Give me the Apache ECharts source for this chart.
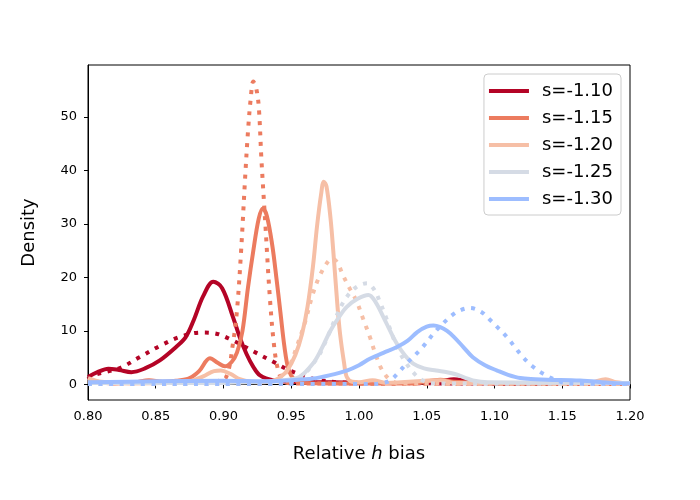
<!DOCTYPE html>
<html>
<head>
<meta charset="utf-8">
<script src="https://cdn.jsdelivr.net/npm/echarts@6/dist/echarts.min.js"></script>
<style>
  html, body { margin: 0; padding: 0; background: #fff; }
  #chart { width: 700px; height: 500px; }
</style>
</head>
<body>
<div id="chart"></div>
<script>
// legend labels and colours, one per s
var names = ["s=-1.10", "s=-1.15", "s=-1.20", "s=-1.25", "s=-1.30"];
var colors = ["#b40426", "#ec7b5f", "#f6bfa6", "#d5dbe5", "#9dbdff"];
var yTicks = [0, 10, 20, 30, 40, 50];

// solid curves  [x, density]
var solid110 = [[0.80,1.4],[0.807,2.3],[0.815,2.95],[0.823,2.7],[0.832,2.3],[0.842,3.0],[0.853,4.5],[0.865,7.0],[0.872,8.8],[0.878,12],[0.885,16.5],[0.8925,19.2],[0.899,18.0],[0.907,12.6],[0.912,8.8],[0.917,5.7],[0.922,3.3],[0.927,1.7],[0.937,0.75],[0.95,0.5],[0.98,0.4],[1.0,0.3],[1.04,0.3],[1.06,0.6],[1.07,1.0],[1.08,0.6],[1.1,0.2],[1.2,0.1]];
var solid115 = [[0.80,0.8],[0.81,0.4],[0.82,0.2],[0.835,0.4],[0.845,0.8],[0.855,0.5],[0.865,0.7],[0.875,1.2],[0.882,2.5],[0.89,4.9],[0.896,4.0],[0.901,3.4],[0.906,4.2],[0.910,6.0],[0.914,10],[0.918,18],[0.922,25],[0.926,31],[0.929,32.9],[0.932,31.5],[0.936,26],[0.939,20],[0.942,13.5],[0.945,7],[0.948,2.8],[0.952,1.0],[0.958,0.3],[0.98,0.2],[1.04,0.2],[1.06,0.9],[1.07,0.5],[1.1,0.2],[1.2,0.1]];
var solid120 = [[0.80,1.2],[0.81,0.5],[0.83,0.2],[0.86,0.3],[0.875,0.6],[0.885,1.5],[0.893,2.5],[0.898,2.6],[0.905,2.0],[0.912,1.0],[0.92,0.5],[0.93,0.4],[0.938,0.8],[0.943,1.6],[0.947,2.6],[0.953,5.5],[0.958,9.5],[0.962,14.5],[0.966,22],[0.969,29.5],[0.972,35.5],[0.974,37.9],[0.976,37],[0.979,31],[0.981,25],[0.984,15],[0.986,9.5],[0.989,4],[0.991,1.4],[0.995,0.5],[1.0,0.4],[1.01,0.8],[1.02,0.3],[1.06,0.8],[1.07,0.3],[1.17,0.3],[1.182,1.0],[1.19,0.4],[1.2,0.2]];
var solid125 = [[0.80,0.3],[0.90,0.3],[0.93,0.5],[0.945,0.8],[0.956,1.4],[0.966,3.9],[0.972,6.5],[0.979,10.1],[0.985,12.5],[0.991,14.5],[0.999,16.0],[1.007,16.7],[1.012,15.5],[1.018,12.6],[1.023,10.0],[1.028,7.6],[1.034,5.4],[1.040,3.9],[1.048,3.0],[1.057,2.6],[1.065,2.3],[1.070,2.0],[1.078,1.3],[1.084,0.75],[1.095,0.4],[1.2,0.3]];
var solid130 = [[0.80,0.4],[0.85,0.6],[0.90,0.7],[0.93,0.6],[0.95,0.8],[0.966,1.1],[0.978,1.7],[0.991,2.6],[1.000,3.6],[1.008,4.8],[1.018,5.9],[1.028,7.0],[1.036,8.2],[1.043,9.8],[1.050,10.8],[1.055,11.0],[1.060,10.7],[1.065,10.0],[1.070,8.9],[1.077,7.0],[1.084,5.1],[1.093,3.6],[1.102,2.6],[1.110,1.8],[1.119,1.2],[1.13,1.0],[1.139,0.9],[1.163,0.75],[1.187,0.3],[1.2,0.2]];

// dotted curves  [x, density]
var dotted110 = [[0.80,1.0],[0.804,1.7],[0.814,2.4],[0.824,3.1],[0.838,5.1],[0.853,7.2],[0.868,8.9],[0.883,9.7],[0.8925,9.6],[0.907,8.2],[0.922,6.2],[0.937,4.2],[0.949,2.6],[0.966,1.1],[0.986,0.4],[1.02,0.3],[1.06,0.2],[1.2,0.1]];
var dotted115 = [[0.80,0.3],[0.85,0.2],[0.88,0.3],[0.895,0.6],[0.902,1.4],[0.907,7.7],[0.910,14],[0.913,25],[0.916,38.8],[0.918,47],[0.920,53.2],[0.922,56.6],[0.924,55.5],[0.926,52],[0.928,42],[0.931,29.5],[0.934,17],[0.937,8],[0.940,3],[0.944,0.7],[0.95,0.2],[1.2,0.1]];
var dotted120 = [[0.80,0.2],[0.93,0.2],[0.94,0.5],[0.945,1.8],[0.950,4.2],[0.954,7],[0.960,11.5],[0.966,17],[0.971,20.3],[0.976,22.6],[0.980,23.5],[0.984,22.8],[0.988,20.5],[0.993,18.0],[0.998,15.7],[1.003,12.3],[1.008,8.9],[1.012,5.8],[1.016,3.2],[1.020,1.6],[1.024,0.7],[1.03,0.2],[1.2,0.1]];
var dotted125 = [[0.80,0.1],[0.94,0.1],[0.95,0.5],[0.958,1.5],[0.965,3.5],[0.971,5.7],[0.977,9],[0.983,12.6],[0.990,16],[0.998,18.2],[1.006,18.9],[1.011,17.8],[1.015,15.7],[1.020,12.5],[1.025,8.9],[1.030,6.0],[1.035,3.9],[1.041,2.0],[1.047,0.75],[1.055,0.2],[1.2,0.1]];
var dotted130 = [[0.80,0.1],[1.01,0.1],[1.018,0.3],[1.023,0.75],[1.029,2.2],[1.035,3.9],[1.041,5.4],[1.047,7.0],[1.055,9.5],[1.062,11.4],[1.069,13.0],[1.075,13.9],[1.082,14.3],[1.090,13.6],[1.097,12.0],[1.103,10.5],[1.109,8.9],[1.115,7.0],[1.121,5.1],[1.128,3.4],[1.136,2.0],[1.146,0.75],[1.155,0.2],[1.2,0.1]];

var solids = [solid110, solid115, solid120, solid125, solid130];
var dotteds = [dotted110, dotted115, dotted120, dotted125, dotted130];

var series = [];
for (var i = 0; i < names.length; i++) {
  series.push({
    name: names[i], type: "line", data: solids[i],
    showSymbol: false, smooth: 0.35,
    lineStyle: { color: colors[i], width: 4, join: "round" },
    itemStyle: { color: colors[i] }
  });
  series.push({
    name: names[i] + " dotted", type: "line", data: dotteds[i],
    showSymbol: false, smooth: 0.35,
    lineStyle: { color: colors[i], width: 4, type: [4, 6.6], cap: "butt" },
    itemStyle: { color: colors[i] }
  });
}

var chart = echarts.init(document.getElementById("chart"));
var font = "DejaVu Sans";

chart.setOption({
  animation: false,
  textStyle: { fontFamily: font },
  grid: { left: 88, right: 70, top: 65, bottom: 100, show: true, borderColor: "#000", borderWidth: 1 },
  legend: {
    data: names,
    right: 79, top: 74,
    orient: "vertical",
    icon: "rect",
    itemWidth: 40, itemHeight: 4,
    itemGap: 9,
    padding: [8, 8, 7, 5],
    borderColor: "#ccc", borderWidth: 1, borderRadius: 4,
    backgroundColor: "rgba(255,255,255,0.8)",
    textStyle: { fontSize: 18, color: "#000", fontFamily: font, padding: [0, 0, 0, 8] }
  },
  xAxis: {
    type: "value", min: 0.8, max: 1.2, interval: 0.05,
    name: "{a|Relative }{i|h}{a| bias}",
    nameLocation: "middle", nameGap: 45,
    nameTextStyle: {
      rich: {
        a: { fontSize: 18, fontFamily: font, color: "#000" },
        i: { fontSize: 18, fontFamily: font, fontStyle: "italic", color: "#000" }
      }
    },
    axisLine: { lineStyle: { color: "#000" } },
    axisTick: { length: 4, lineStyle: { color: "#000" } },
    axisLabel: { fontSize: 13, color: "#000", margin: 10, formatter: function (v) { return v.toFixed(2); } },
    splitLine: { show: false }
  },
  yAxis: {
    type: "value", min: -2.9, max: 59.7,
    name: "Density", nameLocation: "middle", nameGap: 50,
    nameTextStyle: { fontSize: 18, color: "#000" },
    axisLine: { show: true, lineStyle: { color: "#000" } },
    axisTick: { show: true, length: 4, customValues: yTicks, lineStyle: { color: "#000" } },
    axisLabel: { fontSize: 13, color: "#000", margin: 11, customValues: yTicks },
    splitLine: { show: false }
  },
  series: series
});
</script>
</body>
</html>
